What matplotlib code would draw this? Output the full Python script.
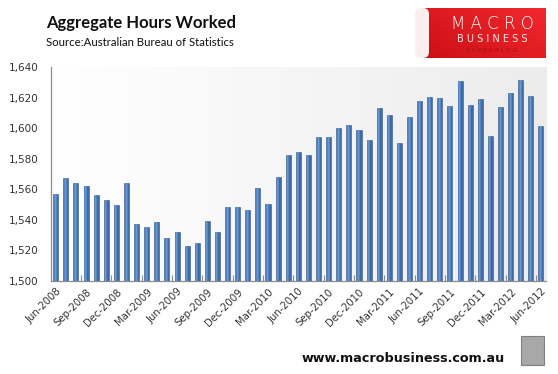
import numpy as np
import matplotlib
matplotlib.use("Agg")
import matplotlib.pyplot as plt
from matplotlib.patches import Rectangle, FancyBboxPatch

# ---- data ----
month_names = ["Jan", "Feb", "Mar", "Apr", "May", "Jun", "Jul", "Aug", "Sep", "Oct", "Nov", "Dec"]
categories = []
for i in range(49):
    m = (5 + i) % 12
    y = 2008 + (5 + i) // 12
    categories.append(f"{month_names[m]}-{y}")

hours = [1557, 1567.5, 1564, 1562, 1556, 1553, 1550, 1564, 1537, 1535.5,
         1538.5, 1528, 1532, 1523, 1525, 1539, 1532, 1548.5, 1548.5, 1546.5,
         1561, 1550.5, 1568, 1582.5, 1584.5, 1582.5, 1594.3, 1594.3, 1600, 1602,
         1599, 1592, 1613, 1608.6, 1590.4, 1607, 1618, 1620.4, 1620, 1614.5,
         1631, 1615, 1619, 1595, 1614, 1623, 1631.5, 1621, 1601.5]

yticks = [1500, 1520, 1540, 1560, 1580, 1600, 1620, 1640]
ytick_labels = ["1,500", "1,520", "1,540", "1,560", "1,580", "1,600", "1,620", "1,640"]

title = "Aggregate Hours Worked"
source = "Source:Australian Bureau of Statistics"
footer = "www.macrobusiness.com.au"

# ---- figure ----
W, H = 558, 374
fig = plt.figure(figsize=(W / 100, H / 100), dpi=100)
fig.patch.set_facecolor("white")

ax = fig.add_axes([50.7 / W, 1 - 281 / H, (546 - 50.7) / W, (281 - 67) / H])
x = np.arange(len(hours))
ax.set_xlim(-0.5, len(hours) - 0.5)
ax.set_ylim(1500, 1640)

# background gradient
grad = np.linspace(1.0, 0.925, 256).reshape(1, -1)
ax.imshow(np.dstack([grad, grad, grad]), extent=[-0.5, len(hours) - 0.5, 1500, 1640],
          aspect="auto", zorder=0, interpolation="bicubic")

vals = np.array(hours) - 1500
bw = 0.5
ax.bar(x, vals, bottom=1500, width=bw, color="#3f6ca6",
       edgecolor="#33598a", linewidth=0.4, zorder=2)
# lighter centre for cylinder look
ax.bar(x - 0.03, vals, bottom=1500, width=0.26, color="#5485c2",
       linewidth=0, zorder=3)
ax.bar(x - 0.05, vals, bottom=1500, width=0.10, color="#6a97cf",
       linewidth=0, zorder=3)

# axes styling
for s in ["top", "right"]:
    ax.spines[s].set_visible(False)
for s in ["left", "bottom"]:
    ax.spines[s].set_color("#8c8c8c")
    ax.spines[s].set_linewidth(0.9)

ax.set_yticks(yticks)
ax.set_yticklabels(ytick_labels, fontsize=7.5, color="#333333", family="DejaVu Sans")
ax.tick_params(axis="y", length=0, pad=9)

ax.set_xticks(x[::3])
ax.set_xticklabels(categories[::3], rotation=45, ha="right", va="top",
                   rotation_mode="anchor", fontsize=7.3, color="#333333")
ax.tick_params(axis="x", length=0, pad=4)
ax.set_xticks(np.arange(2.5, len(hours), 3), minor=True)
ax.tick_params(axis="x", which="minor", length=4, direction="in", color="#8c8c8c", width=0.8)

# title / source
fig.text(46 / W, 1 - 23 / H, title, fontsize=12, fontweight="bold", family="Lato",
         va="center", ha="left", color="#111111")
fig.text(46 / W, 1 - 43 / H, source, fontsize=8.2, family="Lato",
         va="center", ha="left", color="#111111")

# logo
lax = fig.add_axes([415 / W, 1 - 58 / H, (546 - 415) / W, 50 / H])
lax.set_xlim(0, 131)
lax.set_ylim(0, 50)
lax.axis("off")
lg = np.linspace(0, 1, 200)
gx, gy = np.meshgrid(lg, lg)
t = 0.6 * gx + 0.4 * gy
r = 0.80 + 0.15 * t
g = 0.06 + 0.10 * t
b = 0.08 + 0.10 * t
lax.imshow(np.dstack([r, g, b]), extent=[8, 131, 0, 50], origin="lower", aspect="auto",
           zorder=1)
lax.add_patch(FancyBboxPatch((0, 0), 14, 50, boxstyle="round,pad=0,rounding_size=6",
                             facecolor="#fbeeee", edgecolor="none", zorder=2))
lax.text(77, 34, "M A C R O", color="white", fontsize=12, ha="center", va="center",
         family="DejaVu Sans", fontweight="light")
lax.text(77, 19, "B U S I N E S S", color="#fde6e6", fontsize=7, ha="center", va="center",
         family="DejaVu Sans")
lax.text(77, 8, "S U P E R B L O G", color="#a01015", fontsize=4.2, ha="center",
         va="center", family="DejaVu Sans")

# footer
fig.text(505 / W, 1 - 359 / H, footer, fontsize=9.2, fontweight="bold", family="DejaVu Sans",
         ha="right", va="center", color="#111111")

# wolf placeholder
fig.patches.append(Rectangle((521 / W, 1 - 365 / H), 23 / W, 29 / H, transform=fig.transFigure,
                             facecolor="#a8a8a8", edgecolor="#808080", linewidth=0.8))

fig.savefig("out.png", dpi=100)
